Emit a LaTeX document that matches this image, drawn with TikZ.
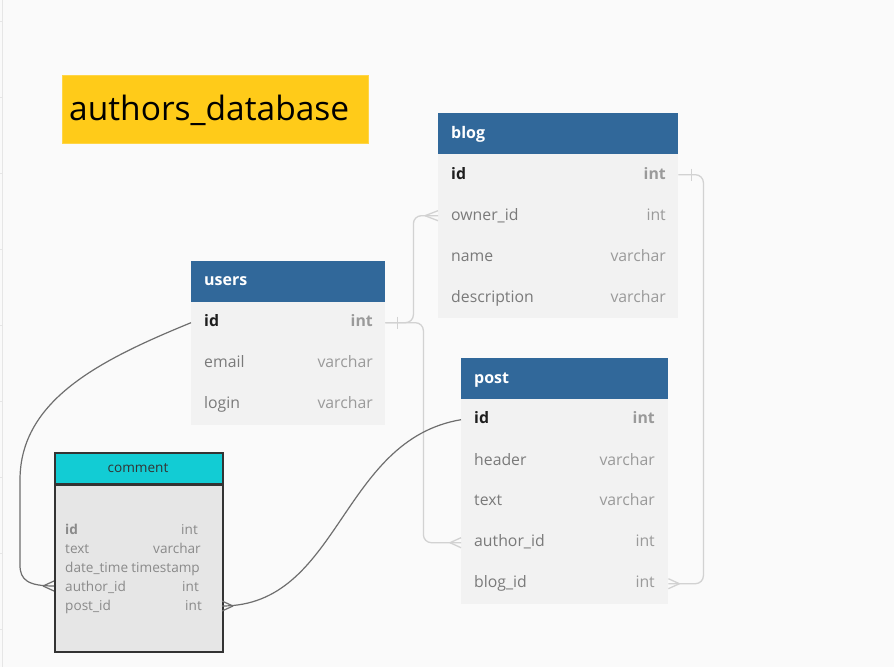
\documentclass[tikz,border=0pt]{standalone}
\usepackage{fontspec}
\setmainfont{Open Sans}
\definecolor{bg}{HTML}{FAFAFA}
\definecolor{hdr}{HTML}{31689A}
\definecolor{bodyc}{HTML}{F2F2F2}
\definecolor{fieldc}{HTML}{7A7A7A}
\definecolor{typec}{HTML}{9A9A9A}
\definecolor{keyc}{HTML}{1E1E1E}
\definecolor{relc}{HTML}{D2D2D2}
\definecolor{darkrel}{HTML}{6E6E6E}
\definecolor{yel}{HTML}{FFCB19}
\definecolor{cyanh}{HTML}{12CCD4}
\definecolor{cbody}{HTML}{E6E6E6}
\definecolor{cborder}{HTML}{333333}
\definecolor{ctext}{HTML}{8A8A8A}
\definecolor{ruler}{HTML}{E6E6E6}
\begin{document}
\begin{tikzpicture}[x=1pt,y=-1pt,
  hdrbox/.style={draw=none,fill=hdr,anchor=north west,inner sep=0,minimum height=41},
  rowbox/.style={draw=none,fill=bodyc,anchor=north west,inner sep=0,minimum height=41},
  hdrtxt/.style={anchor=base west,inner sep=0,text=white,font=\fontsize{16}{19}\selectfont\bfseries},
  fld/.style={anchor=base west,inner sep=0,text=fieldc,font=\fontsize{15.8}{19}\selectfont},
  keyfld/.style={anchor=base west,inner sep=0,text=keyc,font=\fontsize{15.8}{19}\selectfont\bfseries},
  typ/.style={anchor=base east,inner sep=0,text=typec,font=\fontsize{15.8}{19}\selectfont},
  keytyp/.style={anchor=base east,inner sep=0,text=typec,font=\fontsize{15.8}{19}\selectfont\bfseries},
  cfld/.style={anchor=base west,inner sep=0,text=ctext,font=\fontsize{13.6}{16}\selectfont},
  ctyp/.style={anchor=base east,inner sep=0,text=ctext,font=\fontsize{13.6}{16}\selectfont},
  rel/.style={draw=relc,line width=1.3pt},
  drel/.style={draw=darkrel,line width=1.2pt},
]
\fill[bg] (0,0) rectangle (894,667);
\useasboundingbox (0,0) rectangle (894,667);
% ruler on the left edge
\draw[ruler,line width=0.8pt] (2.5,0) -- (2.5,667);
\foreach \yy in {21,97,173,249,325,401,477,553,629}
  \draw[ruler,line width=0.8pt] (0,\yy) -- (2.5,\yy);

% title
\node[fill=yel,draw=yel!80!white,line width=0.6pt,anchor=north west,inner sep=0,minimum width=306,minimum height=68] (title) at (62,75) {};
\node[anchor=base west,inner sep=0,text=black,font=\fontsize{33.5}{40}\selectfont] (titletxt) at (69,120) {authors\_database};

% blog table
\node[hdrbox,minimum width=240] (blog) at (438,113) {};
\node[rowbox,minimum width=240] (blog-id) at (438,154) {};
\node[rowbox,minimum width=240] (blog-owner) at (438,195) {};
\node[rowbox,minimum width=240] (blog-name) at (438,236) {};
\node[rowbox,minimum width=240] (blog-desc) at (438,277) {};
\node[hdrtxt] (blog-t) at (451,138) {blog};
\node[keyfld] (blog-f1) at (451,179) {id};
\node[keytyp] (blog-y1) at (666,179) {int};
\node[fld] (blog-f2) at (451,220) {owner\_id};
\node[typ] (blog-y2) at (666,220) {int};
\node[fld] (blog-f3) at (451,261) {name};
\node[typ] (blog-y3) at (666,261) {varchar};
\node[fld] (blog-f4) at (451,302) {description};
\node[typ] (blog-y4) at (666,302) {varchar};

% users table
\node[hdrbox,minimum width=194] (users) at (191,261) {};
\node[rowbox,minimum width=194] (users-id) at (191,302) {};
\node[rowbox,minimum width=194] (users-email) at (191,343) {};
\node[rowbox,minimum width=194] (users-login) at (191,384) {};
\node[hdrtxt] (users-t) at (204,285) {users};
\node[keyfld] (users-f1) at (204,326) {id};
\node[keytyp] (users-y1) at (373,326) {int};
\node[fld] (users-f2) at (204,367.5) {email};
\node[typ] (users-y2) at (373,367.5) {varchar};
\node[fld] (users-f3) at (204,408) {login};
\node[typ] (users-y3) at (373,408) {varchar};

% post table
\node[hdrbox,minimum width=207] (post) at (461,358) {};
\node[rowbox,minimum width=207] (post-id) at (461,399) {};
\node[rowbox,minimum width=207] (post-header) at (461,440) {};
\node[rowbox,minimum width=207] (post-text) at (461,481) {};
\node[rowbox,minimum width=207] (post-author) at (461,522) {};
\node[rowbox,minimum width=207] (post-blog) at (461,563) {};
\node[hdrtxt] (post-t) at (474,383) {post};
\node[keyfld] (post-f1) at (474,423.5) {id};
\node[keytyp] (post-y1) at (655,423.5) {int};
\node[fld] (post-f2) at (474,465) {header};
\node[typ] (post-y2) at (655,465) {varchar};
\node[fld] (post-f3) at (474,505.5) {text};
\node[typ] (post-y3) at (655,505.5) {varchar};
\node[fld] (post-f4) at (474,546.5) {author\_id};
\node[typ] (post-y4) at (655,546.5) {int};
\node[fld] (post-f5) at (474,587) {blog\_id};
\node[typ] (post-y5) at (655,587) {int};

% comment table
\node[draw=cborder,fill=cbody,line width=1.6pt,anchor=north west,inner sep=0,minimum width=168,minimum height=199] (comment) at (54,452) {};
\node[draw=cborder,fill=cyanh,line width=1.6pt,anchor=north west,inner sep=0,minimum width=168,minimum height=31] (comment-h) at (54,452) {};
\draw[cborder,line width=2.6pt] (comment-h.south west) -- (comment-h.south east);
\node[anchor=base,inner sep=0,text=cborder,font=\fontsize{13.6}{16}\selectfont] (comment-t) at (138,472) {comment};
\node[cfld,font=\fontsize{13.6}{16}\selectfont\bfseries] (c-f1) at (65,534) {id};
\node[ctyp] (c-y1) at (198,534) {int};
\node[cfld] (c-f2) at (65,553.3) {text};
\node[ctyp] (c-y2) at (201,553.3) {varchar};
\node[cfld] (c-f3) at (65,572.3) {date\_time};
\node[ctyp] (c-y3) at (200,572.3) {timestamp};
\node[cfld] (c-f4) at (65,591) {author\_id};
\node[ctyp] (c-y4) at (199,591) {int};
\node[cfld] (c-f5) at (65,610) {post\_id};
\node[ctyp] (c-y5) at (202,610) {int};
\coordinate (c-author) at (54,586);
\coordinate (c-post) at (222,606);

% light connectors
\draw[rel,rounded corners=8] (users-id.east) -- ++(28,0) |- (blog-owner.west);
\draw[rel,rounded corners=8] (users-id.east) -- ++(38,0) |- (post-author.west);
\draw[rel,rounded corners=8] (blog-id.east) -- ++(25,0) |- (post-blog.east);
% one-marks
\draw[rel] ([xshift=12]users-id.east) ++(0,-6) -- ++(0,12);
\draw[rel] ([xshift=13]blog-id.east) ++(0,-6) -- ++(0,12);
% crow's feet (light)
\draw[rel] ([xshift=-13]blog-owner.west) -- ([yshift=-5]blog-owner.west);
\draw[rel] ([xshift=-13]blog-owner.west) -- ([yshift=5]blog-owner.west);
\draw[rel] ([xshift=-11]post-author.west) -- ([yshift=-5]post-author.west);
\draw[rel] ([xshift=-11]post-author.west) -- ([yshift=5]post-author.west);
\draw[rel] ([xshift=11]post-blog.east) -- ([yshift=-5]post-blog.east);
\draw[rel] ([xshift=11]post-blog.east) -- ([yshift=5]post-blog.east);

% dark connectors
\draw[drel] (users-id.west) .. controls (100,360) and (20,400) .. (20,480) -- (20,565) .. controls (20,580) and (28,586) .. (c-author);
\draw[drel] (post-id.west) .. controls (340,440) and (340,606) .. (c-post);
\draw[drel] ([xshift=-11]c-author) -- ([yshift=-5]c-author);
\draw[drel] ([xshift=-11]c-author) -- ([yshift=5]c-author);
\draw[drel] ([xshift=11]c-post) -- ([yshift=-5]c-post);
\draw[drel] ([xshift=11]c-post) -- ([yshift=5]c-post);
\end{tikzpicture}
\end{document}
